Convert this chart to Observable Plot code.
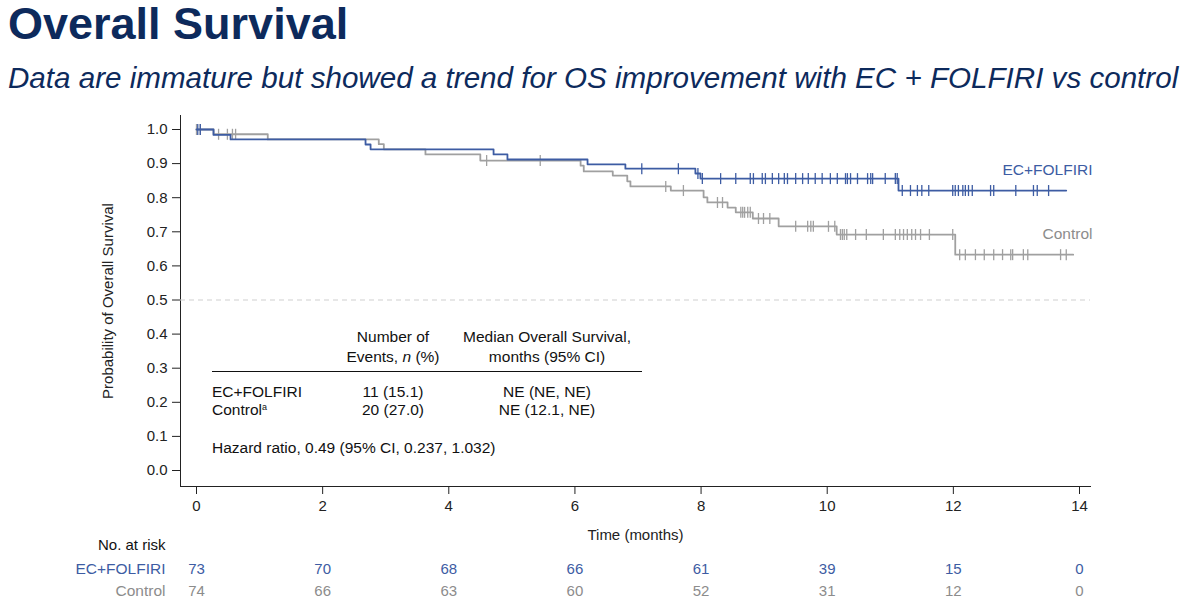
<!DOCTYPE html>
<html><head><meta charset="utf-8">
<script src="https://cdn.jsdelivr.net/npm/d3@7"></script>
<script src="https://cdn.jsdelivr.net/npm/@observablehq/plot@0.6"></script>
<style>
body{margin:0;background:#fff;width:1185px;height:606px;overflow:hidden;position:relative;font-family:Arial,"Liberation Sans",sans-serif;}
#title{position:absolute;left:8px;top:1px;font-size:45px;font-weight:bold;color:#0d2a5c;line-height:1;white-space:nowrap}
#subtitle{position:absolute;left:8px;top:63px;font-size:29.6px;font-style:italic;color:#0d2a5c;line-height:1;white-space:nowrap}
#chart{position:absolute;left:0;top:100px;}
.t{position:absolute;font-size:15.5px;line-height:20px;height:20px;color:#111;white-space:nowrap}
.c{text-align:center}
.t sup{font-size:9px;vertical-align:5px;line-height:0}
#hrule{position:absolute;left:212px;top:371px;width:430px;border-top:1.5px solid #111}
</style></head>
<body>
<div id="title">Overall Survival</div>
<div id="subtitle">Data are immature but showed a trend for OS improvement with EC + FOLFIRI vs control</div>
<div id="chart"></div>
<div id="tbl"></div>
<script>
// ---- data ----
const xTicks = [0, 2, 4, 6, 8, 10, 12, 14];
const yTicks = [0, 0.1, 0.2, 0.3, 0.4, 0.5, 0.6, 0.7, 0.8, 0.9, 1.0];

const ecTimes = [0, 0.27, 0.54, 2.68, 2.76, 4.71, 4.93, 6.20, 6.80, 7.91, 7.99, 11.13, 13.79];
const ecSurv  = [1, 0.984, 0.971, 0.956, 0.942, 0.927, 0.912, 0.898, 0.885, 0.871, 0.856, 0.821, 0.821];
const ecCensor = [0.02, 0.06, 7.06, 7.64, 7.95, 8.02, 8.31, 8.55, 8.78, 8.83, 8.97, 9.02, 9.13, 9.23, 9.32, 9.37,
  9.50, 9.61, 9.70, 9.81, 9.92, 10.05, 10.16, 10.29, 10.32, 10.37, 10.48, 10.64, 10.69, 10.72, 10.92, 11.08, 11.11,
  11.19, 11.32, 11.43, 11.50, 11.61, 11.99, 12.03, 12.08, 12.15, 12.19, 12.24, 12.30, 12.59, 12.64, 12.99, 13.27, 13.33, 13.51];

const ctrlTimes = [0, 0.27, 1.13, 2.89, 2.97, 3.63, 4.50, 6.09, 6.14, 6.60, 6.83, 6.88, 7.52, 8.04, 8.10, 8.42, 8.55, 8.82, 9.23, 10.15, 12.03, 13.90];
const ctrlSurv  = [1, 0.986, 0.971, 0.957, 0.942, 0.927, 0.909, 0.894, 0.877, 0.865, 0.848, 0.833, 0.821, 0.801, 0.786, 0.771, 0.757, 0.739, 0.716, 0.692, 0.633, 0.633];
const ctrlCensor = [0.0, 0.06, 0.35, 0.49, 0.57, 0.62, 4.60, 5.45, 7.44, 7.72, 8.26, 8.34, 8.63, 8.66, 8.69, 8.74, 8.78,
  8.91, 8.99, 9.09, 9.50, 9.69, 9.74, 9.78, 10.02, 10.12, 10.21, 10.24, 10.27, 10.31, 10.45, 10.62, 10.89, 11.08, 11.15,
  11.21, 11.27, 11.34, 11.40, 11.48, 11.62, 11.99, 12.10, 12.19, 12.35, 12.49, 12.64, 12.78, 12.91, 12.94, 13.11, 13.18, 13.70, 13.79];

const seriesNames = ["EC+FOLFIRI", "Control"];
const riskMonths = [0, 2, 4, 6, 8, 10, 12, 14];
const ecRisk   = [73, 70, 68, 66, 61, 39, 15, 0];
const ctrlRisk = [74, 66, 63, 60, 52, 31, 12, 0];

const tblHeader1 = ["Number of", "Events, <i>n</i> (%)"];
const tblHeader2 = ["Median Overall Survival,", "months (95% CI)"];
const tblRows = ["EC+FOLFIRI", "Control<sup>a</sup>"];
const tblEvents = ["11 (15.1)", "20 (27.0)"];
const tblMedian = ["NE (NE, NE)", "NE (12.1, NE)"];
const tblHazard = "Hazard ratio, 0.49 (95% CI, 0.237, 1.032)";

// ---- styling ----
const BLUE = "#3d5ca3", GRAY = "#a0a0a0", BLUE_T = "#3d5ca3", GRAY_T = "#8c8c8c";

function survAt(times, surv, t) {
  let s = surv[0];
  for (let i = 0; i < times.length; i++) if (times[i] <= t) s = surv[i];
  return s;
}
const ecCurve = ecTimes.map((t, i) => ({t, s: ecSurv[i]}));
const ctrlCurve = ctrlTimes.map((t, i) => ({t, s: ctrlSurv[i]}));
const ecMarks = ecCensor.map(t => ({t, s: survAt(ecTimes, ecSurv, t)}));
const ctrlMarks = ctrlCensor.map(t => ({t, s: survAt(ctrlTimes, ctrlSurv, t)}));

const vline = {draw(ctx, size) { const h = Math.sqrt(size / Math.PI); ctx.moveTo(0, -h); ctx.lineTo(0, h); }};

const chart = Plot.plot({
  width: 1185, height: 506,
  marginLeft: 180, marginRight: 95, marginTop: 15, marginBottom: 120,
  style: {fontSize: "15px", fontFamily: "Arial, 'Liberation Sans', sans-serif", color: "#222", background: "white", overflow: "visible"},
  x: {domain: [0, 14], ticks: xTicks, insetLeft: 16, insetRight: 11, tickSize: 8, tickPadding: 6, line: true, label: null},
  y: {domain: [0, 1], ticks: yTicks, tickFormat: ".1f", insetTop: 14, insetBottom: 16, tickSize: 8, tickPadding: 5, line: true, label: null},
  marks: [
    Plot.ruleY([0.5], {stroke: "#cfcfcf", strokeDasharray: "5,4", strokeWidth: 1}),
    Plot.line(ctrlCurve, {x: "t", y: "s", curve: "step-after", stroke: GRAY, strokeWidth: 1.8}),
    Plot.dot(ctrlMarks, {x: "t", y: "s", symbol: vline, r: 5.5, fill: "none", stroke: GRAY, strokeWidth: 1.3}),
    Plot.line(ecCurve, {x: "t", y: "s", curve: "step-after", stroke: BLUE, strokeWidth: 1.8}),
    Plot.dot(ecMarks, {x: "t", y: "s", symbol: vline, r: 5.5, fill: "none", stroke: BLUE, strokeWidth: 1.3}),
    Plot.text([seriesNames[0]], {frameAnchor: "right", y: ecSurv[ecSurv.length - 1], textAnchor: "end", dx: 2, dy: -21, fill: BLUE_T, fontSize: 15.5}),
    Plot.text([seriesNames[1]], {frameAnchor: "right", y: ctrlSurv[ctrlSurv.length - 1], textAnchor: "end", dx: 2, dy: -21, fill: GRAY_T, fontSize: 15.5}),
    Plot.text(["Time (months)"], {frameAnchor: "bottom", dy: 53, fill: "#222"}),
    Plot.text(["Probability of Overall Survival"], {frameAnchor: "left", textAnchor: "middle", rotate: -90, dx: -72, fill: "#222"}),
    Plot.text(["No. at risk"], {frameAnchor: "bottom-left", textAnchor: "end", dx: -15, dy: 63, fill: "#111", fontSize: 15}),
    Plot.text([seriesNames[0]], {frameAnchor: "bottom-left", textAnchor: "end", dx: -15, dy: 87, fill: BLUE_T, fontSize: 15.5}),
    Plot.text([seriesNames[1]], {frameAnchor: "bottom-left", textAnchor: "end", dx: -15, dy: 109, fill: GRAY_T, fontSize: 15.5}),
    Plot.text(ecRisk, {x: (d, i) => riskMonths[i], text: d => String(d), frameAnchor: "bottom", dy: 87, fill: BLUE_T, fontSize: 15}),
    Plot.text(ctrlRisk, {x: (d, i) => riskMonths[i], text: d => String(d), frameAnchor: "bottom", dy: 109, fill: GRAY_T, fontSize: 15})
  ]
});
document.getElementById("chart").appendChild(chart);

// ---- inset summary table (HTML text overlay) ----
const tbl = document.getElementById("tbl");
function cell(html, left, top, width, center) {
  const d = document.createElement("div");
  d.className = "t" + (center ? " c" : "");
  d.style.left = left + "px"; d.style.top = top + "px";
  if (width) d.style.width = width + "px";
  d.innerHTML = html;
  tbl.appendChild(d);
}
tblHeader1.forEach((h, i) => cell(h, 323, 327 + i * 20, 140, true));
tblHeader2.forEach((h, i) => cell(h, 437, 327 + i * 20, 220, true));
const hr = document.createElement("div"); hr.id = "hrule"; tbl.appendChild(hr);
tblRows.forEach((r, i) => {
  cell(r, 212, 382 + i * 18, null, false);
  cell(tblEvents[i], 323, 382 + i * 18, 140, true);
  cell(tblMedian[i], 437, 382 + i * 18, 220, true);
});
cell(tblHazard, 212, 438, null, false);
</script>
</body></html>
